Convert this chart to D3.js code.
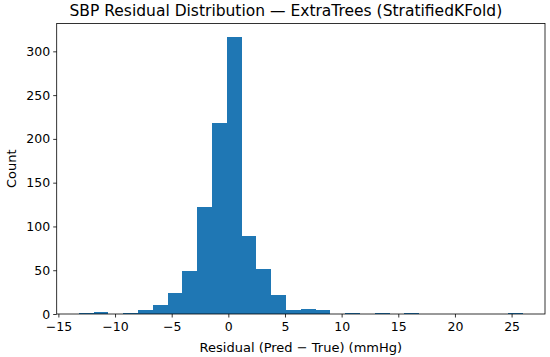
<!DOCTYPE html>
<html>
<head>
<meta charset="utf-8">
<script src="https://cdn.jsdelivr.net/npm/d3@7"></script>
<style>
  body { margin: 0; background: #fff; }
  svg { display: block; font-family: "DejaVu Sans", sans-serif; }
</style>
</head>
<body>
<div id="chart"></div>
<script>
// histogram of residuals, 30 equal bins between binMin and binMax
var binMin = -13.19;
var binMax = 25.99;
var counts = [1, 2, 0, 1, 5, 10, 24, 49, 122, 218, 316, 89, 51, 22, 5, 6, 4, 0, 1, 0, 1, 0, 1, 0, 0, 0, 0, 0, 0, 1];
var xTicks = [-15, -10, -5, 0, 5, 10, 15, 20, 25];
var yTicks = [0, 50, 100, 150, 200, 250, 300];

var width = 550, height = 357;
var margin = { top: 23.5, right: 5, bottom: 43, left: 56.7 };

var binW = (binMax - binMin) / counts.length;
var bins = counts.map(function (c, i) {
  return { x0: binMin + i * binW, x1: binMin + (i + 1) * binW, count: c };
});

var svg = d3.select("#chart").append("svg")
  .attr("width", width)
  .attr("height", height);

// matplotlib style 5% padding on x
var pad = 0.05 * (binMax - binMin);
var x = d3.scaleLinear()
  .domain([binMin - pad, binMax + pad])
  .range([margin.left, width - margin.right]);

var y = d3.scaleLinear()
  .domain([0, 1.05 * d3.max(counts)])
  .range([height - margin.bottom, margin.top]);

// bars
svg.append("g")
  .selectAll("rect")
  .data(bins)
  .enter()
  .append("rect")
  .attr("x", function (d) { return x(d.x0); })
  .attr("width", function (d) { return x(d.x1) - x(d.x0); })
  .attr("y", function (d) { return y(d.count); })
  .attr("height", function (d) { return y(0) - y(d.count); })
  .attr("fill", "#1f77b4")
  .attr("shape-rendering", "crispEdges");

// axes
var xAxis = svg.append("g")
  .attr("transform", "translate(0," + y(0) + ")")
  .call(d3.axisBottom(x).tickValues(xTicks).tickSize(3.5).tickPadding(5)
    .tickFormat(function (d) { return d < 0 ? "\u2212" + Math.abs(d) : d; }));

var yAxis = svg.append("g")
  .attr("transform", "translate(" + x.range()[0] + ",0)")
  .call(d3.axisLeft(y).tickValues(yTicks).tickSize(3.5).tickPadding(3));

[xAxis, yAxis].forEach(function (g) {
  g.select(".domain").remove();
  g.selectAll("line").attr("stroke", "#000").attr("stroke-width", 0.8);
  g.selectAll("text").attr("font-size", "12.5px").attr("fill", "#000")
    .attr("font-family", "DejaVu Sans, sans-serif");
});

// frame
svg.append("rect")
  .attr("x", x.range()[0])
  .attr("y", y.range()[1])
  .attr("width", x.range()[1] - x.range()[0])
  .attr("height", y.range()[0] - y.range()[1])
  .attr("fill", "none")
  .attr("stroke", "#000")
  .attr("stroke-width", 0.8);

// title & labels
svg.append("text")
  .attr("x", (x.range()[0] + x.range()[1]) / 2 - 15)
  .attr("y", 16)
  .attr("text-anchor", "middle")
  .attr("font-size", "15.5px")
  .text("SBP Residual Distribution \u2014 ExtraTrees (StratifiedKFold)");

svg.append("text")
  .attr("x", (x.range()[0] + x.range()[1]) / 2)
  .attr("y", 352)
  .attr("text-anchor", "middle")
  .attr("font-size", "13px")
  .text("Residual (Pred \u2212 True) (mmHg)");

svg.append("text")
  .attr("transform", "translate(16," + (y.range()[0] + y.range()[1]) / 2 + ") rotate(-90)")
  .attr("text-anchor", "middle")
  .attr("font-size", "13px")
  .text("Count");
</script>
</body>
</html>
